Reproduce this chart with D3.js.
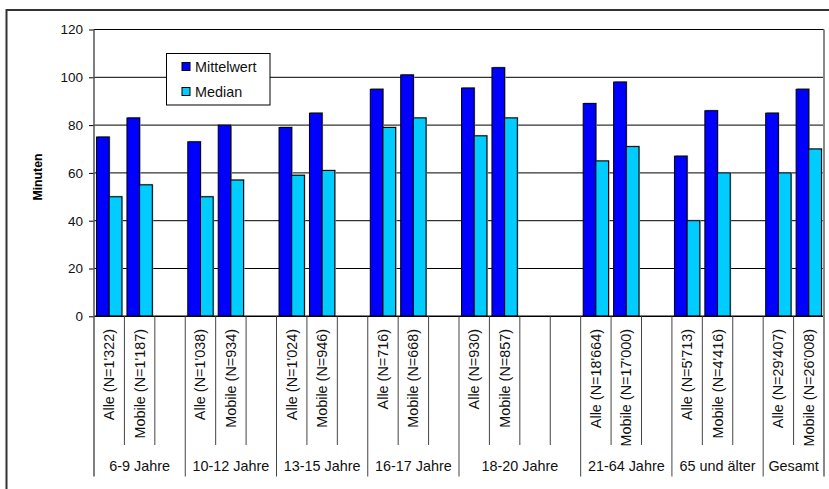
<!DOCTYPE html>
<html>
<head>
<meta charset="utf-8">
<script src="https://cdn.jsdelivr.net/npm/d3@7"></script>
<style>
  html, body { margin: 0; padding: 0; background: #fff; }
  svg { display: block; font-family: "Liberation Sans", Arial, sans-serif; }
</style>
</head>
<body>
<svg id="chart" width="829" height="489"></svg>
<script>
// Category slots along the x axis (empty strings are spacer slots)
const categories = [
  "Alle (N=1'322)", "Mobile (N=1'187)", "",
  "Alle (N=1'038)", "Mobile (N=934)", "",
  "Alle (N=1'024)", "Mobile (N=946)", "",
  "Alle (N=716)", "Mobile (N=668)", "",
  "Alle (N=930)", "Mobile (N=857)", "", "",
  "Alle (N=18'664)", "Mobile (N=17'000)", "",
  "Alle (N=5'713)", "Mobile (N=4'416)", "",
  "Alle (N=29'407)", "Mobile (N=26'008)"
];
// Age groups and how many slots each spans
const groups = ["6-9 Jahre", "10-12 Jahre", "13-15 Jahre", "16-17 Jahre", "18-20 Jahre", "21-64 Jahre", "65 und älter", "Gesamt"];
const groupSizes = [3, 3, 3, 3, 4, 3, 3, 2];

const seriesNames = ["Mittelwert", "Median"];
const mittelwert = [75, 83, null, 73, 80, null, 79, 85, null, 95, 101, null, 95.5, 104, null, null, 89, 98, null, 67, 86, null, 85, 95];
const median     = [50, 55, null, 50, 57, null, 59, 61, null, 79, 83, null, 75.5, 83, null, null, 65, 71, null, 40, 60, null, 60, 70];
const yTicks = [0, 20, 40, 60, 80, 100, 120];

const colors = { "Mittelwert": "#0000ff", "Median": "#00ccff" };

const svg = d3.select("#chart");
const plot = { left: 94, right: 824, top: 29.5, bottom: 316.3 };
const slotLineBottom = 445;
const groupLineBottom = 476.5;

// Outer chart frame
svg.append("rect")
  .attr("x", 6.5).attr("y", 10).attr("width", 900).attr("height", 600)
  .attr("fill", "none").attr("stroke", "#333").attr("stroke-width", 2);

const x = d3.scaleBand()
  .domain(d3.range(categories.length))
  .range([plot.left, plot.right])
  .paddingInner(0).paddingOuter(0);

const xInner = d3.scaleBand()
  .domain(seriesNames)
  .range([0, x.bandwidth()])
  .paddingInner(0).paddingOuter(0.2);

const y = d3.scaleLinear().domain([0, 120]).range([plot.bottom, plot.top]);

// Gridlines
svg.append("g")
  .selectAll("line")
  .data(yTicks.filter(t => t > 0))
  .join("line")
  .attr("x1", plot.left).attr("x2", plot.right)
  .attr("y1", d => y(d)).attr("y2", d => y(d))
  .attr("stroke", "#000").attr("stroke-width", 1);

// Y axis
const yAxis = d3.axisLeft(y).tickValues(yTicks).tickSize(5).tickPadding(6);
const gy = svg.append("g").attr("transform", `translate(${plot.left},0)`).call(yAxis);
gy.select(".domain").remove();
gy.selectAll(".tick line").attr("stroke", "#000");
gy.selectAll(".tick text")
  .attr("font-size", "13.5px").attr("fill", "#111")
  .attr("font-family", "Liberation Sans, Arial, sans-serif");

svg.append("text")
  .attr("transform", `translate(42,177) rotate(-90)`)
  .attr("text-anchor", "middle")
  .attr("font-size", "12.3px").attr("font-weight", "bold")
  .text("Minuten");

// Bars
const barData = [];
categories.forEach((c, i) => {
  [["Mittelwert", mittelwert[i]], ["Median", median[i]]].forEach(([s, v]) => {
    if (v != null) barData.push({ i, s, v });
  });
});

const bars = svg.append("g");
// soft shadow
bars.selectAll("rect.shadow")
  .data(barData)
  .join("rect")
  .attr("class", "shadow")
  .attr("x", d => x(d.i) + xInner(d.s) + 1)
  .attr("y", d => y(d.v) - 1)
  .attr("width", xInner.bandwidth())
  .attr("height", d => y(0) - y(d.v))
  .attr("fill", "#a8a8a8");
bars.selectAll("rect.bar")
  .data(barData)
  .join("rect")
  .attr("class", "bar")
  .attr("x", d => x(d.i) + xInner(d.s))
  .attr("y", d => y(d.v))
  .attr("width", xInner.bandwidth())
  .attr("height", d => y(0) - y(d.v))
  .attr("fill", d => colors[d.s])
  .attr("stroke", "#000").attr("stroke-width", 1);

// Plot borders
svg.append("line")
  .attr("x1", plot.left).attr("x2", plot.right)
  .attr("y1", plot.top).attr("y2", plot.top)
  .attr("stroke", "#000").attr("stroke-width", 1);
svg.append("line")
  .attr("x1", plot.left).attr("x2", plot.right)
  .attr("y1", y(0)).attr("y2", y(0))
  .attr("stroke", "#000").attr("stroke-width", 1.5);
svg.append("line")
  .attr("x1", plot.left).attr("x2", plot.left)
  .attr("y1", plot.top).attr("y2", groupLineBottom)
  .attr("stroke", "#555").attr("stroke-width", 1.5);
svg.append("line")
  .attr("x1", plot.right).attr("x2", plot.right)
  .attr("y1", plot.top).attr("y2", groupLineBottom)
  .attr("stroke", "#888").attr("stroke-width", 2);

// Group boundaries (slot indices where a new group starts)
const groupStarts = [];
let acc = 0;
groupSizes.forEach(n => { groupStarts.push(acc); acc += n; });
const groupStartSet = new Set(groupStarts);

// Slot dividers below the axis
svg.append("g")
  .selectAll("line")
  .data(d3.range(1, categories.length))
  .join("line")
  .attr("x1", d => x(d)).attr("x2", d => x(d))
  .attr("y1", y(0))
  .attr("y2", d => groupStartSet.has(d) ? groupLineBottom : slotLineBottom)
  .attr("stroke", "#444").attr("stroke-width", 1);

// Category labels (rotated)
svg.append("g")
  .selectAll("text")
  .data(categories.map((c, i) => ({ c, i })).filter(d => d.c))
  .join("text")
  .attr("transform", d => `translate(${x(d.i) + x.bandwidth() / 2 + 5},329) rotate(-90)`)
  .attr("text-anchor", "end")
  .attr("font-size", "14.4px").attr("fill", "#111")
  .text(d => d.c);

// Group labels
svg.append("g")
  .selectAll("text")
  .data(groups.map((g, k) => ({ g, start: groupStarts[k], n: groupSizes[k] })))
  .join("text")
  .attr("x", d => (x(d.start) + x(d.start + d.n - 1) + x.bandwidth()) / 2)
  .attr("y", 471)
  .attr("text-anchor", "middle")
  .attr("font-size", "14.4px").attr("fill", "#111")
  .text(d => d.g);

// Legend
const legend = svg.append("g");
legend.append("rect")
  .attr("x", 166.5).attr("y", 53.5).attr("width", 103.5).attr("height", 51.5)
  .attr("fill", "#fff").attr("stroke", "#000").attr("stroke-width", 1);
seriesNames.forEach((s, k) => {
  const cy = 66.5 + k * 25;
  legend.append("rect")
    .attr("x", 182).attr("y", cy - 4).attr("width", 8).attr("height", 8)
    .attr("fill", colors[s]).attr("stroke", "#000").attr("stroke-width", 1);
  legend.append("text")
    .attr("x", 195).attr("y", cy + 5)
    .attr("font-size", "14.4px").attr("fill", "#111")
    .text(s);
});
</script>
</body>
</html>
